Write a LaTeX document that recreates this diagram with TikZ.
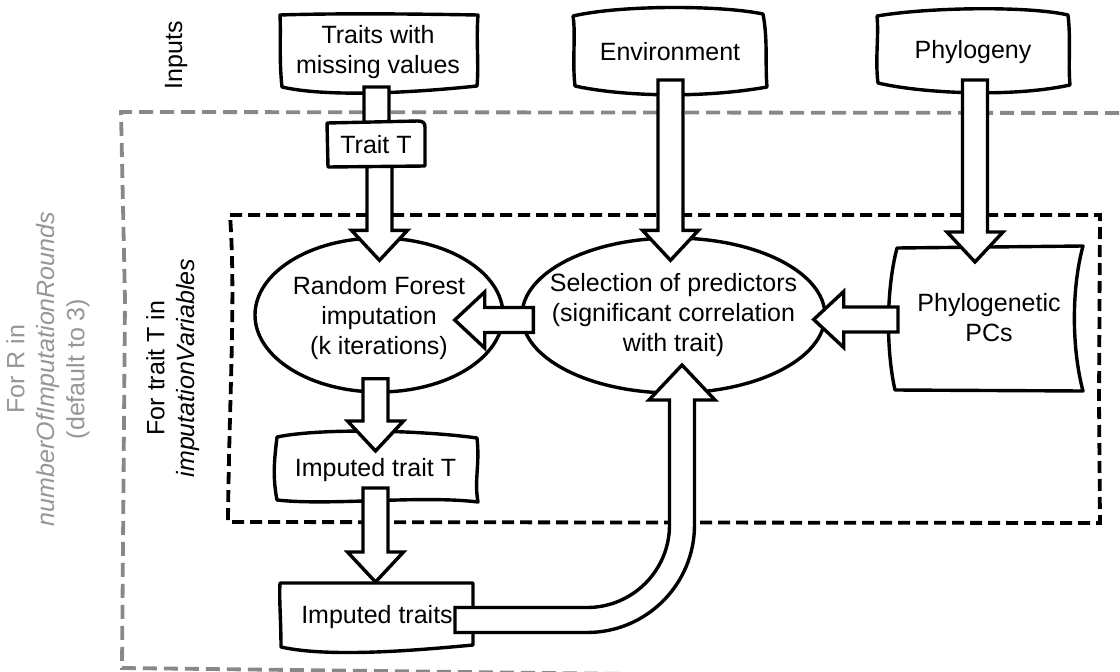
\documentclass[tikz,border=0pt]{standalone}
\usepackage{fontspec}
\setmainfont{Liberation Sans}
\usetikzlibrary{calc,shapes.geometric}
\pgfdeclarelayer{bg}
\pgfdeclarelayer{arr}
\pgfdeclarelayer{top}
\pgfsetlayers{bg,main,arr,top}

\definecolor{graybox}{RGB}{136,136,136}
\definecolor{graytext}{RGB}{150,150,150}

\tikzset{
  outline/.style={draw=black, line width=3.4pt, fill=white, line join=round},
  blk/.style={draw=black, line width=3.4pt, fill=white, line join=miter},
  lbl/.style={font=\fontsize{25}{30}\selectfont, align=center, inner sep=0pt},
  loopbox/.style={draw=black, line width=3.8pt, dash pattern=on 12pt off 6pt},
  roundbox/.style={draw=graybox, line width=3.8pt, dash pattern=on 14pt off 7pt},
}

% straight block arrow from a tail point to a tip point
\newcommand\blockarrow[2]{%
  \coordinate (ba-t) at (#1);
  \coordinate (ba-p) at (#2);
  \coordinate (ba-h) at ($(ba-p)!30pt!(ba-t)$);
  \draw[blk] ($(ba-t)!12.5pt!90:(ba-p)$) -- ($(ba-h)!12.5pt!-90:(ba-t)$)
    -- ($(ba-h)!28pt!-90:(ba-t)$) -- (ba-p) -- ($(ba-h)!28pt!90:(ba-t)$)
    -- ($(ba-h)!12.5pt!90:(ba-t)$) -- ($(ba-t)!12.5pt!-90:(ba-p)$) -- cycle;}

\begin{document}
\begin{tikzpicture}[x=1pt,y=-1pt]
\useasboundingbox (0,0) rectangle (1120,672);

% loop frames
\begin{pgfonlayer}{bg}
  \clip (0,0) rectangle (1120,672);
  \draw[roundbox] (1140,113) -- (121,112) -- (125,300) -- (122,668) -- (1140,680);
  \draw[loopbox] (230,215) -- (1100,215) -- (1099,400) -- (1100,523) -- (228,522)
    .. controls (229,400) and (236,300) .. (230,215) -- cycle;
\end{pgfonlayer}

% loop labels
\node[lbl, rotate=90] (inputs) at (176,55) {Inputs};
\node[lbl, rotate=90, text=graytext] (roundlbl) at (48,369)
  {For R in\\\textit{numberOfImputationRounds}\\(default to 3)};
\node[lbl, rotate=90] (looplbl) at (173,368)
  {For trait T in\\\textit{imputationVariables}};

% input boxes
\draw[outline] (280,15) .. controls (340,13) and (420,14) .. (478,15)
  .. controls (476,40) and (479,65) .. (477,86)
  .. controls (420,92) and (330,98) .. (282,87)
  .. controls (279,60) and (281,35) .. (280,15) -- cycle;
\node[lbl] (trn) at (378,52) {Traits with\\missing values};

\draw[outline] (573,16) .. controls (620,5) and (720,5) .. (763,14)
  .. controls (768,40) and (765,65) .. (767,87)
  .. controls (700,99) and (620,96) .. (575,86)
  .. controls (572,60) and (576,35) .. (573,16) -- cycle;
\node[lbl] (env) at (670,52) {Environment};

\draw[outline] (877,16) .. controls (930,7) and (1030,6) .. (1068,15)
  .. controls (1071,40) and (1068,65) .. (1070,85)
  .. controls (1010,98) and (920,93) .. (878,83)
  .. controls (875,60) and (879,35) .. (877,16) -- cycle;
\node[lbl] (phy) at (973,52) {Phylogeny};

% processing steps
\node[ellipse, outline, minimum width=248pt, minimum height=154pt, inner sep=0pt,
  label={[lbl, yshift=-3pt]center:{Random Forest\\imputation\\(k iterations)}}]
  (rf) at (379,315) {};
\node[ellipse, outline, minimum width=303pt, minimum height=155pt, inner sep=0pt,
  label={[lbl]center:{Selection of predictors\\(significant correlation\\with trait)}}]
  (sel) at (673.5,315.5) {};

\draw[outline] (897,248) -- (1083,246) .. controls (1071,290) and (1072,350) .. (1083,391)
  -- (895,390) .. controls (886,350) and (886,290) .. (897,248) -- cycle;
\node[lbl] (pcs) at (989,318) {Phylogenetic\\PCs};

\draw[outline] (277,437) .. controls (320,428) and (420,430) .. (477,438)
  .. controls (480,465) and (474,480) .. (478,502)
  .. controls (420,495) and (330,506) .. (277,500)
  .. controls (272,475) and (275,455) .. (277,437) -- cycle;
\node[lbl] (imt) at (375.5,470) {Imputed trait T};

\draw[outline] (280,583) -- (473,583) -- (473,645)
  .. controls (420,650) and (330,658) .. (281,647)
  .. controls (281,620) and (279,600) .. (280,583) -- cycle;
\node[lbl] (imts) at (377,617) {Imputed traits};

% the current trait, drawn over its incoming arrow
\begin{pgfonlayer}{top}
  \draw[outline] (327,123) -- (418,121) .. controls (423,121) and (425,123) .. (425,127)
    -- (425,166) -- (328,167) -- cycle;
  \node[lbl] (trt) at (376,145) {Trait T};
\end{pgfonlayer}

% flow arrows
\begin{pgfonlayer}{arr}
  \blockarrow{$(trn)+(-1.5,35)$}{$(trt)+(0.5,15)$}
  \blockarrow{$(trt)+(3.5,20)$}{$(rf.north)+(0.5,24)$}
  \blockarrow{$(env)+(0.5,28)$}{$(sel.north)+(-3,24)$}
  \blockarrow{$(phy)+(2,28)$}{$(pcs)+(-14,-56)$}
  \blockarrow{$(pcs)+(-91,1.5)$}{$(sel.east)+(-13,4)$}
  \blockarrow{$(sel.west)+(13,4.5)$}{$(rf.east)+(-50,5)$}
  \blockarrow{$(rf.south)+(-3.5,-15)$}{$(imt)+(0,-19)$}
  \blockarrow{$(imt)+(0,18)$}{$(imts)+(-1.5,-35)$}
  % imputed traits feed back into predictor selection
  \draw[blk, shift={(imts)}] (78,-9.5) -- (210,-9.5)
    arc[start angle=90, end angle=0, radius=82.5] -- (292.5,-217)
    -- (272,-217) -- (305,-252) -- (338,-217) -- (317.5,-217) -- (317.5,-92)
    arc[start angle=0, end angle=90, radius=107.5] -- (78,15.5) -- cycle;
\end{pgfonlayer}
\end{tikzpicture}
\end{document}
